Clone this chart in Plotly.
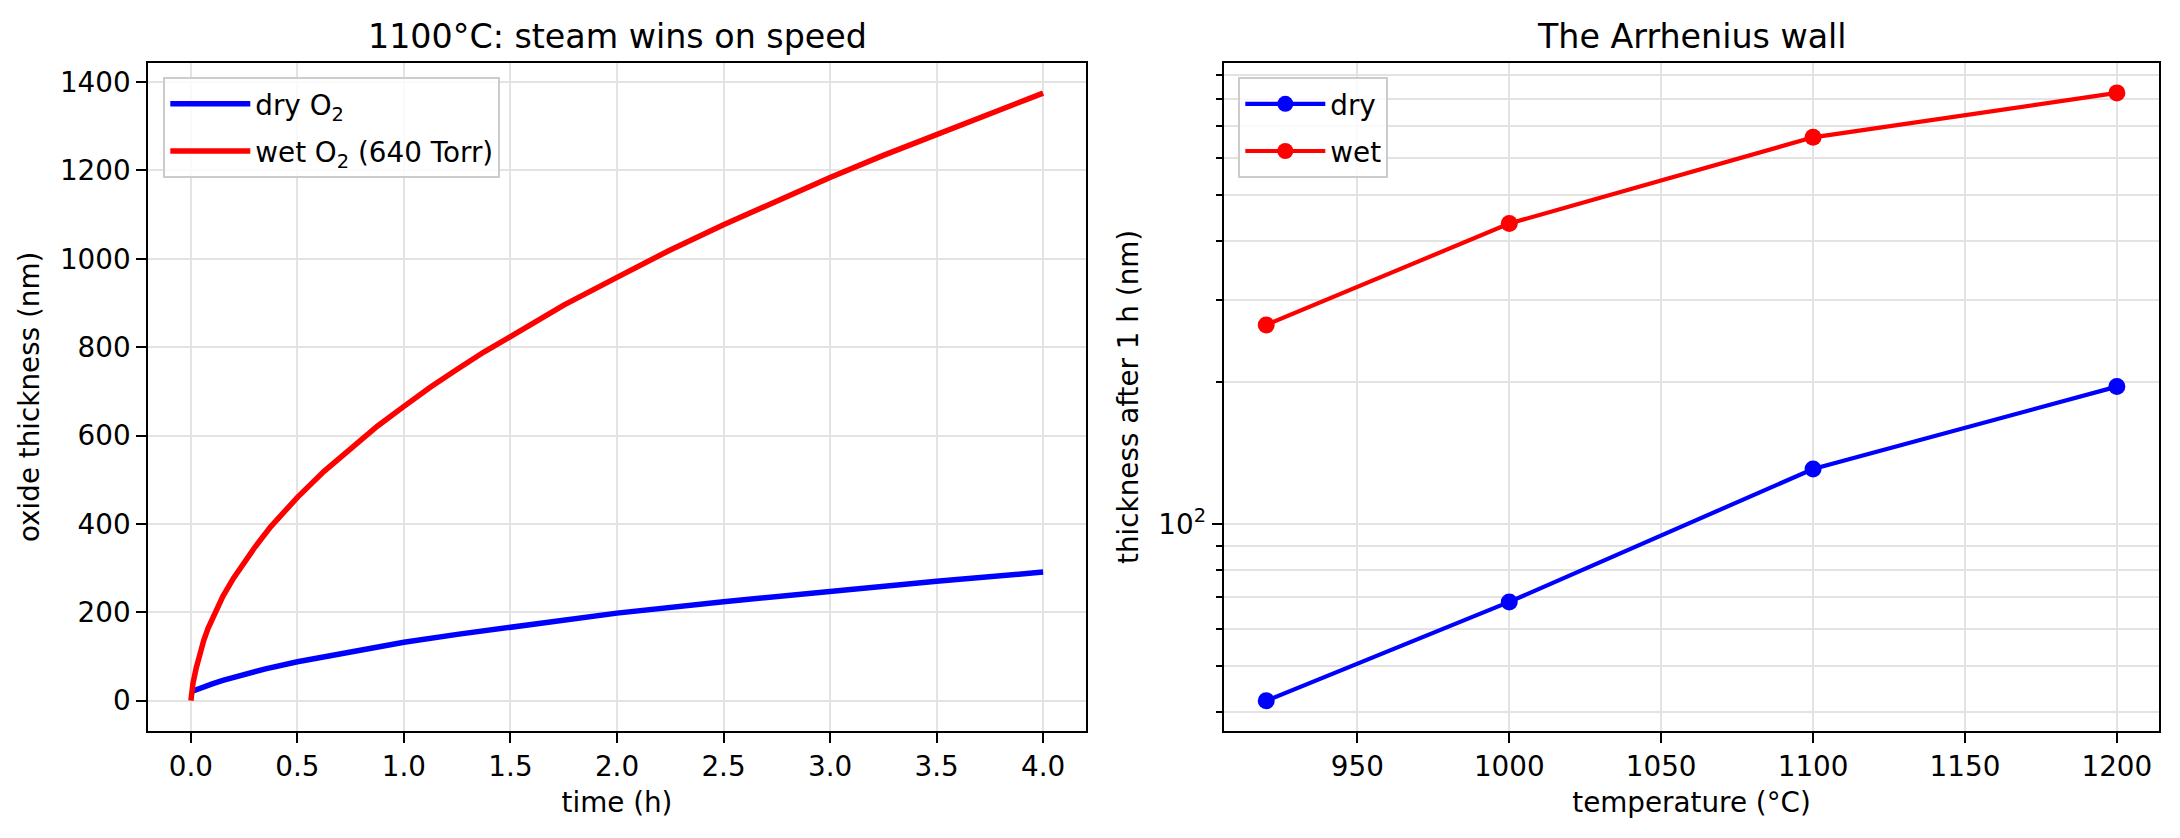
import plotly.graph_objects as go

# ---- left panel data ----
t_wet = [0, 0.01, 0.025, 0.04, 0.06, 0.08, 0.1, 0.125, 0.15, 0.2, 0.25, 0.3, 0.375, 0.45, 0.5,
         0.625, 0.75, 0.875, 1.0, 1.125, 1.25, 1.375, 1.5, 1.625, 1.75, 2.0, 2.25, 2.5, 2.75,
         3.0, 3.25, 3.5, 3.75, 4.0]
x_wet = [0, 40, 74, 104, 136, 163, 186, 212, 236, 277, 314, 347, 394, 435, 460,
         519, 572, 621, 666, 710, 750, 789, 824, 861, 895, 958, 1020, 1077, 1132,
         1184, 1234, 1282, 1329, 1375]
t_dry = [0, 0.025, 0.05, 0.1, 0.15, 0.2, 0.25, 0.35, 0.5, 0.75, 1.0, 1.25, 1.5, 1.75,
         2.0, 2.5, 3.0, 3.5, 4.0]
x_dry = [20, 25, 30, 38, 46, 53, 60, 72, 88, 111, 132, 150, 167, 183,
         198, 224, 248, 270, 291]

# ---- right panel data ----
temps = [920, 1000, 1100, 1200]
dry_1h = [42.2, 68.4, 131, 196]
wet_1h = [265, 435, 663, 824]

W, H = 2180, 838
FONT = "DejaVu Sans"
GRID = "#e3e3e3"

def px_x(p):
    return p / W

def px_y(p):
    return 1 - p / H

fig = go.Figure()

fig.add_trace(go.Scatter(x=t_dry, y=x_dry, mode="lines", name="dry O<sub>2</sub>",
                         line=dict(color="#0000ff", width=5.5),
                         xaxis="x", yaxis="y", legend="legend", legendgroup="a"))
fig.add_trace(go.Scatter(x=t_wet, y=x_wet, mode="lines", name="wet O<sub>2</sub> (640 Torr)",
                         line=dict(color="#ff0000", width=5.5),
                         xaxis="x", yaxis="y", legend="legend", legendgroup="b"))

fig.add_trace(go.Scatter(x=temps, y=dry_1h, mode="lines+markers", name="dry",
                         line=dict(color="#0000ff", width=4.2),
                         marker=dict(color="#0000ff", size=17),
                         xaxis="x2", yaxis="y2", legend="legend2", legendgroup="c"))
fig.add_trace(go.Scatter(x=temps, y=wet_1h, mode="lines+markers", name="wet",
                         line=dict(color="#ff0000", width=4.2),
                         marker=dict(color="#ff0000", size=17),
                         xaxis="x2", yaxis="y2", legend="legend2", legendgroup="d"))

axis_common = dict(showline=True, mirror=True, linecolor="black", linewidth=2.2,
                   ticks="outside", ticklen=10, tickwidth=2.2, tickcolor="black",
                   showgrid=True, gridcolor=GRID, gridwidth=2, zeroline=False,
                   tickfont=dict(family=FONT, size=27.8, color="black"),
                   title_font=dict(family=FONT, size=27.8, color="black"))

top, bottom = 62.7, 731
ydom = [px_y(bottom), px_y(top)]

legend_common = dict(xanchor="left", yanchor="top", bgcolor="rgba(255,255,255,0.8)",
                     bordercolor="#cccccc", borderwidth=2, tracegroupgap=8, itemwidth=80,
                     font=dict(family=FONT, size=27.8, color="black"))

fig.update_layout(
    width=W, height=H,
    margin=dict(l=0, r=0, t=0, b=0),
    paper_bgcolor="white", plot_bgcolor="white",
    font=dict(family=FONT, color="black"),
    xaxis=dict(domain=[px_x(148.3), px_x(1085.7)], range=[-0.2, 4.2],
               tickvals=[0, 0.5, 1, 1.5, 2, 2.5, 3, 3.5, 4], tickformat=".1f",
               title=dict(text="time (h)", standoff=10), anchor="y", **axis_common),
    yaxis=dict(domain=ydom, range=[-68.75, 1443.75], tickvals=[0, 200, 400, 600, 800, 1000, 1200, 1400],
               title=dict(text="oxide thickness (nm)", standoff=12), anchor="x", **axis_common),
    xaxis2=dict(domain=[px_x(1223.7), px_x(2159.4)], range=[906, 1214],
                tickvals=[950, 1000, 1050, 1100, 1150, 1200],
                title=dict(text="temperature (°C)", standoff=10), anchor="y2", **axis_common),
    yaxis2=dict(domain=ydom, type="log", range=[1.561, 2.980],
                tickvals=[100], ticktext=["10<sup>2</sup>"],
                minor=dict(tickmode="array",
                           tickvals=[40, 50, 60, 70, 80, 90, 200, 300, 400, 500, 600, 700, 800, 900],
                           ticks="outside", ticklen=5.6, tickwidth=1.7, tickcolor="black",
                           showgrid=True, gridcolor=GRID, gridwidth=2),
                title=dict(text="thickness after 1 h (nm)", standoff=12), anchor="x2", **axis_common),
    legend=dict(x=px_x(163.3), y=px_y(77.3), **legend_common),
    legend2=dict(x=px_x(1238.3), y=px_y(77.3), **legend_common),
    showlegend=True,
    annotations=[
        dict(text="1100°C: steam wins on speed", x=(px_x(148.3) + px_x(1085.7)) / 2, y=px_y(36),
             xref="paper", yref="paper", xanchor="center", yanchor="middle", showarrow=False,
             font=dict(family=FONT, size=33.3, color="black")),
        dict(text="The Arrhenius wall", x=(px_x(1223.7) + px_x(2159.4)) / 2, y=px_y(36),
             xref="paper", yref="paper", xanchor="center", yanchor="middle", showarrow=False,
             font=dict(family=FONT, size=33.3, color="black")),
    ],
)

fig.write_html("out.html")
